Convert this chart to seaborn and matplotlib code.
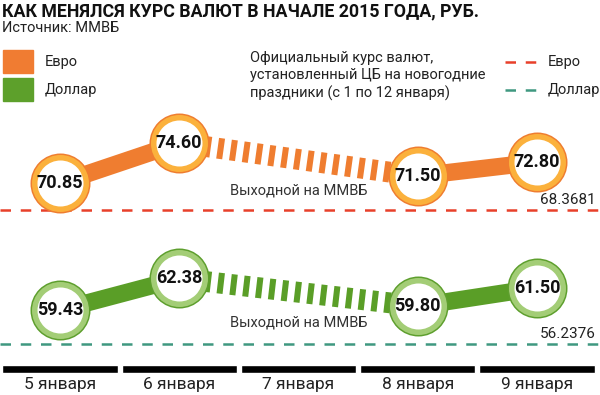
import numpy as np
import pandas as pd
import seaborn as sns
import matplotlib.pyplot as plt
from matplotlib import font_manager
from matplotlib.lines import Line2D
from matplotlib.patches import Rectangle

# data
dates = ["5 января", "6 января", "7 января", "8 января", "9 января"]
eur = [70.85, 74.60, np.nan, 71.50, 72.80]
usd = [59.43, 62.38, np.nan, 59.80, 61.50]
cb_eur = 68.3681
cb_usd = 56.2376

df = pd.DataFrame({"x": range(len(dates)), "date": dates, "eur": eur, "usd": usd})

sns.set_style("white")
names = {f.name for f in font_manager.fontManager.ttflist}
NARROW = "Liberation Sans Narrow" if "Liberation Sans Narrow" in names else "Roboto"
NUM_SIZE = 15 if NARROW != "Roboto" else 13
CB_SIZE = 12.5 if NARROW != "Roboto" else 11
plt.rcParams["font.family"] = ["Roboto", "DejaVu Sans"]

W, H = 600, 395
fig = plt.figure(figsize=(6, 3.95), dpi=100)
fig.patch.set_facecolor("white")


def fy(py):
    return 1 - py / H


XLIM = (-0.503, 4.528)

ax_e = fig.add_axes([0, fy(230), 1, 135 / H])
ax_d = fig.add_axes([0, fy(360), 1, 130 / H])
ax_b = fig.add_axes([0, 0, 1, 35 / H])
ax_e.set_ylim(66.46, 79.07)
ax_d.set_ylim(54.76, 66.91)
ax_b.set_ylim(0, 1)
for ax in (ax_e, ax_d, ax_b):
    ax.set_xlim(*XLIM)
    ax.set_axis_off()

panels = [
    (ax_e, "eur", cb_eur, "#EF7D30", "#FBB13C", "#EF7D30", "#E8402A"),
    (ax_d, "usd", cb_usd, "#5A9E27", "#A3CD76", "#5E9F2E", "#3F9880"),
]

for ax, col, cb, line_c, ring_c, edge_c, cb_c in panels:
    traded = df.dropna(subset=[col]).reset_index(drop=True)
    # connecting segments: solid between trading days, striped over the holiday
    for i in range(len(traded) - 1):
        pair = traded.iloc[i:i + 2]
        if pair["x"].iloc[1] - pair["x"].iloc[0] == 1:
            sns.lineplot(data=pair, x="x", y=col, ax=ax, color=line_c, linewidth=12.5,
                         estimator=None, sort=False, legend=False,
                         solid_capstyle="butt", zorder=2)
        else:
            ln, = ax.plot(pair["x"], pair[col], color=line_c, linewidth=15,
                          dash_capstyle="butt", zorder=2)
            ln.set_dashes([0.29, 0.33])
    # circles
    sns.scatterplot(data=traded, x="x", y=col, ax=ax, s=1866, color=edge_c,
                    linewidth=0, legend=False, zorder=3, clip_on=False)
    sns.scatterplot(data=traded, x="x", y=col, ax=ax, s=1684, color=ring_c,
                    linewidth=0, legend=False, zorder=4, clip_on=False)
    sns.scatterplot(data=traded, x="x", y=col, ax=ax, s=1097, color="white",
                    linewidth=0, legend=False, zorder=5, clip_on=False)
    for _, r in traded.iterrows():
        ax.text(r["x"], r[col], f"{r[col]:.2f}", ha="center", va="center",
                fontsize=NUM_SIZE, fontweight="bold", family=NARROW, color="#111111",
                zorder=6)
    # official CB rate
    ax.axhline(cb, color=cb_c, linewidth=1.8, dashes=(4.2, 3.9), zorder=1)
    ax.annotate(f"{cb:.4f}", xy=(1, cb), xycoords=("axes fraction", "data"),
                xytext=(-3, 2), textcoords="offset points", ha="right", va="bottom",
                fontsize=CB_SIZE, family=NARROW, color="#222222")
    ax.text(2, 0.29, "Выходной на ММВБ", transform=ax.get_xaxis_transform(),
            ha="center", va="center", fontsize=10.5, family="Roboto",
            color="#333333", zorder=6)

# day strip
ax_b.bar(df["x"], 0.229, bottom=0.629, width=0.965, color="black")
for x, d in zip(df["x"], dates):
    ax_b.text(x, 0.3, d, ha="center", va="center", fontsize=12.5, family="Roboto",
              color="#222222")

# header
fig.text(0.004, fy(11), "КАК МЕНЯЛСЯ КУРС ВАЛЮТ В НАЧАЛЕ 2015 ГОДА, РУБ.",
         ha="left", va="center", fontsize=12.8, fontweight="bold", color="#111111")
fig.text(0.004, fy(28), "Источник: ММВБ", ha="left", va="center",
         fontsize=10.5, color="#222222")

# legend left
fig.patches.append(Rectangle((3 / W, fy(73)), 30 / W, 23 / H, transform=fig.transFigure,
                             color="#F07C32"))
fig.patches.append(Rectangle((3 / W, fy(101)), 30 / W, 23 / H, transform=fig.transFigure,
                             color="#5DA02B"))
fig.text(45 / W, fy(62), "Евро", ha="left", va="center", fontsize=10.5, color="#222222")
fig.text(45 / W, fy(90), "Доллар", ha="left", va="center", fontsize=10.5, color="#222222")

# legend middle
fig.text(250 / W, fy(76), "Официальный курс валют,\nустановленный ЦБ на новогодние\nпраздники (с 1 по 12 января)",
         ha="left", va="center", fontsize=10.5, color="#222222", linespacing=1.3)

# legend right
for py, c, lab in [(62, "#E8402A", "Евро"), (90, "#3F9880", "Доллар")]:
    fig.add_artist(Line2D([505 / W, 541 / W], [fy(py), fy(py)], transform=fig.transFigure,
                          color=c, linewidth=1.8, dashes=(4.2, 3.9)))
    fig.text(548 / W, fy(py), lab, ha="left", va="center", fontsize=10.5, color="#222222")

fig.savefig("out.png", dpi=100, facecolor="white")
